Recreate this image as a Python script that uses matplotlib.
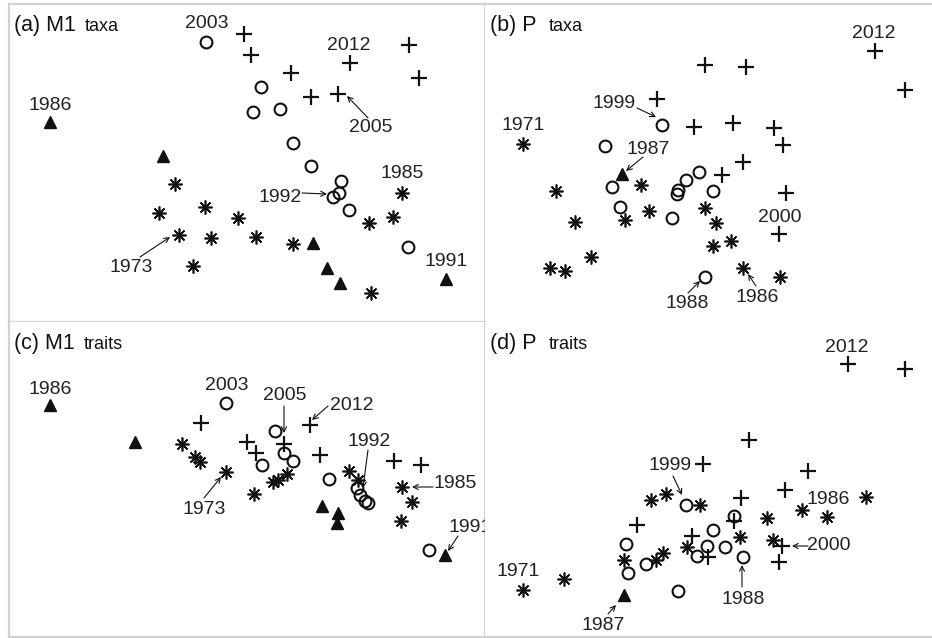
import matplotlib
matplotlib.use("Agg")
import matplotlib.pyplot as plt

plt.rcParams['font.family'] = ['Liberation Sans', 'DejaVu Sans']

# ordination scores (panel units, y grows downward)
# (a) M1 taxa
a_circ = [(197, 38), (252, 83), (244, 108), (271, 105), (284, 139), (302, 162),
          (332, 177), (330, 189), (324, 193), (340, 206), (399, 243)]
a_plus = [(235, 30), (242, 51), (282, 69), (302, 93), (329, 90), (341, 59),
          (400, 41), (410, 74)]
a_tri = [(41, 118), (154, 152), (304, 239), (318, 264), (331, 279), (437, 275)]
a_ast = [(166, 180), (150, 209), (196, 203), (170, 231), (202, 234), (229, 214),
         (247, 233), (284, 240), (184, 262), (360, 219), (384, 213), (393, 189),
         (362, 289)]

# (b) P taxa
b_circ = [(177, 121), (120, 142), (127, 183), (135, 203), (187, 214), (201, 176),
          (214, 168), (193, 186), (192, 190), (228, 187), (220, 273)]
b_plus = [(220, 61), (261, 63), (390, 47), (420, 86), (172, 95), (209, 123),
          (248, 119), (289, 124), (298, 141), (258, 158), (237, 171), (301, 189),
          (294, 230)]
b_tri = [(137, 170)]
b_ast = [(38, 140), (71, 187), (90, 218), (106, 253), (65, 264), (80, 267),
         (156, 181), (140, 216), (164, 207), (220, 204), (231, 219), (228, 242),
         (246, 237), (258, 264), (295, 273)]

# (c) M1 traits
c_circ = [(217, 81), (266, 109), (253, 143), (275, 131), (284, 139), (320, 157),
          (348, 166), (351, 173), (356, 179), (359, 181), (420, 228)]
c_plus = [(192, 101), (238, 120), (247, 131), (275, 122), (301, 103), (311, 133),
          (385, 139), (412, 143)]
c_tri = [(41, 83), (126, 120), (313, 184), (329, 191), (328, 201), (436, 233)]
c_ast = [(173, 122), (186, 135), (191, 140), (217, 150), (245, 172), (264, 160),
         (269, 158), (278, 152), (340, 149), (349, 158), (393, 165), (403, 180),
         (392, 199)]

# (d) P traits
d_circ = [(201, 183), (249, 194), (228, 208), (222, 224), (240, 225), (212, 234),
          (258, 235), (141, 222), (161, 242), (143, 251), (193, 269)]
d_plus = [(363, 42), (420, 47), (264, 118), (218, 142), (323, 149), (300, 168),
          (256, 176), (152, 203), (249, 199), (207, 214), (223, 235), (297, 224),
          (294, 240)]
d_tri = [(139, 273)]
d_ast = [(166, 178), (181, 172), (215, 183), (282, 196), (317, 188), (342, 195),
         (381, 175), (255, 215), (288, 218), (202, 225), (178, 231), (171, 238),
         (139, 238), (79, 257), (38, 268)]

# year labels: (text, text position, arrow tail, arrow head or None)
a_labels = [("2003", (198, 20), None, None), ("2012", (340, 42), None, None),
            ("1986", (41, 101), None, None), ("1985", (393, 169), None, None),
            ("1991", (437, 258), None, None),
            ("2005", (362, 124), (359, 114), (338, 92)),
            ("1992", (271, 193), (293, 189), (318, 190)),
            ("1973", (122, 264), (131, 253), (161, 233))]
b_labels = [("2012", (389, 29), None, None), ("1971", (38, 121), None, None),
            ("1999", (129, 100), (152, 104), (171, 113)),
            ("1987", (163, 145), (158, 153), (141, 167)),
            ("2000", (295, 213), None, None),
            ("1988", (202, 300), (203, 289), (215, 277)),
            ("1986", (272, 294), (271, 282), (263, 270))]
c_labels = [("1986", (41, 67), None, None), ("2003", (218, 64), None, None),
            ("2005", (276, 73), (275, 84), (275, 111)),
            ("2012", (343, 84), (319, 84), (303, 98)),
            ("1992", (360, 119), (359, 128), (354, 166)),
            ("1973", (195, 187), (195, 176), (212, 155)),
            ("1985", (446, 162), (424, 165), (403, 165)),
            ("1991", (461, 205), (449, 214), (439, 229))]
d_labels = [("2012", (362, 25), None, None), ("1999", (185, 143), (188, 154), (197, 173)),
            ("1986", (343, 178), None, None),
            ("2000", (344, 224), (323, 224), (307, 224)),
            ("1988", (258, 278), (257, 265), (257, 243)),
            ("1971", (33, 250), None, None),
            ("1987", (118, 304), (123, 292), (131, 283))]

W, H = 932, 638
fig = plt.figure(figsize=(W / 100, H / 100), dpi=100)
fig.patch.set_facecolor('white')

# panel boxes in pixels: x0, y0, x1, y1
boxes = {'a': (9, 4, 485, 322), 'b': (485, 4, 932, 322),
         'c': (9, 322, 485, 637), 'd': (485, 322, 932, 637)}
titles = {'a': ("(a) M1", "taxa"), 'b': ("(b) P", "taxa"),
          'c': ("(c) M1", "traits"), 'd': ("(d) P", "traits")}
small_x = {'a': 76, 'b': 64, 'c': 75, 'd': 64}
spines_on = {'a': ['left', 'top', 'right', 'bottom'], 'b': ['top'],
             'c': ['left', 'right', 'bottom'], 'd': ['bottom']}
panels = {'a': (a_circ, a_plus, a_tri, a_ast, a_labels),
          'b': (b_circ, b_plus, b_tri, b_ast, b_labels),
          'c': (c_circ, c_plus, c_tri, c_ast, c_labels),
          'd': (d_circ, d_plus, d_tri, d_ast, d_labels)}

ink = '#111111'
for key, (x0, y0, x1, y1) in boxes.items():
    ax = fig.add_axes([x0 / W, 1 - y1 / H, (x1 - x0) / W, (y1 - y0) / H])
    ax.set_xlim(0, x1 - x0)
    ax.set_ylim(y1 - y0, 0)
    ax.set_xticks([])
    ax.set_yticks([])
    for s in ax.spines:
        ax.spines[s].set_visible(s in spines_on[key])
        ax.spines[s].set_color('#d2d2d2')
        ax.spines[s].set_linewidth(1.6)

    circ, plus, tri, ast, labels = panels[key]
    ax.plot([p[0] for p in ast], [p[1] for p in ast], ls='none', marker=(8, 2, 0),
            ms=10, mew=1.2, color=ink)
    ax.plot([p[0] for p in plus], [p[1] for p in plus], ls='none', marker='+',
            ms=12, mew=1.6, color=ink)
    ax.plot([p[0] for p in circ], [p[1] for p in circ], ls='none', marker='o',
            ms=8.5, mew=1.5, mfc='none', color=ink)
    ax.plot([p[0] for p in tri], [p[1] for p in tri], ls='none', marker='^',
            ms=9, color=ink)

    for txt, pos, tail, head in labels:
        t = ax.text(pos[0], pos[1], txt, fontsize=14, ha='center', va='center',
                    color='#222222', clip_on=True)
        t.set_clip_path(ax.patch)
        if tail is not None:
            ax.annotate('', xy=head, xytext=tail,
                        arrowprops=dict(arrowstyle='->', lw=0.8, color=ink,
                                        shrinkA=0, shrinkB=0, mutation_scale=9))

    big, small = titles[key]
    ax.text(5, 27, big, fontsize=15.5, ha='left', va='baseline', color=ink)
    ax.text(small_x[key], 27, small, fontsize=13, ha='left', va='baseline', color=ink)

fig.savefig('out.png', dpi=100, facecolor='white')
